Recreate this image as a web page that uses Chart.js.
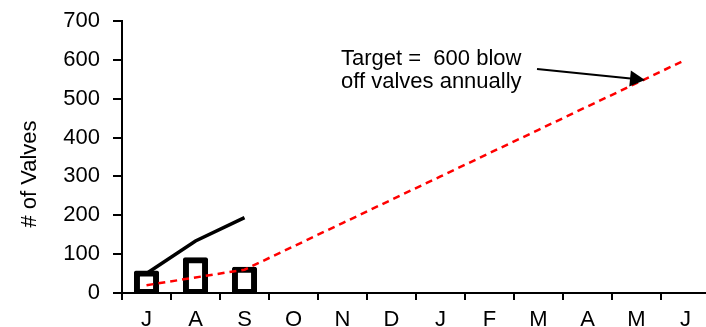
<!DOCTYPE html>
<html>
<head>
<meta charset="utf-8">
<script src="https://cdn.jsdelivr.net/npm/chart.js@4"></script>
<style>
  html, body { margin: 0; padding: 0; background: #fff; overflow: hidden; }
  #wrap { width: 713px; height: 327px; }
</style>
</head>
<body>
<div id="wrap"><canvas id="valves"></canvas></div>
<script>
// months Jul -> Jun
var months = ["J", "A", "S", "O", "N", "D", "J", "F", "M", "A", "M", "J"];
var monthly = [50, 84, 60, null, null, null, null, null, null, null, null, null];
var cumulative = [50, 134, 194, null, null, null, null, null, null, null, null, null];
var target = [20, 40, 60, 120, 180, 240, 300, 360, 420, 480, 540, 600];
var yTicks = [0, 100, 200, 300, 400, 500, 600, 700];

var FONT = "'Liberation Sans', Arial, sans-serif";

// axis title (sits a bit below the middle, like the original) + target note
var notePlugin = {
  id: "note",
  afterDraw: function (chart) {
    var ctx = chart.ctx;
    ctx.save();
    ctx.fillStyle = "#000";
    ctx.font = "22px " + FONT;

    ctx.save();
    ctx.translate(30, 174);
    ctx.rotate(-Math.PI / 2);
    ctx.textAlign = "center";
    ctx.textBaseline = "middle";
    ctx.fillText("# of Valves", 0, 0);
    ctx.restore();

    ctx.textBaseline = "alphabetic";
    ctx.fillText("Target =  600 blow", 341, 65);
    ctx.fillText("off valves annually", 341, 88);

    var x0 = 537, y0 = 69, x1 = 645, y1 = 80;
    var ang = Math.atan2(y1 - y0, x1 - x0);
    ctx.strokeStyle = "#000";
    ctx.lineWidth = 2;
    ctx.beginPath();
    ctx.moveTo(x0, y0);
    ctx.lineTo(x1 - 12 * Math.cos(ang), y1 - 12 * Math.sin(ang));
    ctx.stroke();
    ctx.beginPath();
    ctx.moveTo(x1, y1);
    ctx.lineTo(x1 - 15 * Math.cos(ang) + 8 * Math.sin(ang), y1 - 15 * Math.sin(ang) - 8 * Math.cos(ang));
    ctx.lineTo(x1 - 15 * Math.cos(ang) - 8 * Math.sin(ang), y1 - 15 * Math.sin(ang) + 8 * Math.cos(ang));
    ctx.closePath();
    ctx.fill();
    ctx.restore();
  },
};

var ctx = document.getElementById("valves").getContext("2d");
var chart = new Chart(ctx, {
  type: "bar",
  data: {
    labels: months,
    datasets: [
      {
        type: "line",
        label: "Target",
        data: target,
        borderColor: "#ff0000",
        borderWidth: 2.5,
        borderDash: [7, 5],
        pointRadius: 0,
        fill: false,
        order: 1,
      },
      {
        type: "line",
        label: "Cumulative",
        data: cumulative,
        borderColor: "#000",
        borderWidth: 3.5,
        pointRadius: 0,
        fill: false,
        order: 3,
      },
      {
        label: "Monthly",
        data: monthly,
        backgroundColor: "#fff",
        borderColor: "#000",
        borderWidth: 6,
        borderSkipped: false,
        borderRadius: 2,
        inflateAmount: 3,
        barPercentage: 0.39,
        categoryPercentage: 1,
        order: 2,
      },
    ],
  },
  options: {
    responsive: true,
    maintainAspectRatio: false,
    animation: false,
    layout: { padding: { top: 21, right: 3, left: 13, bottom: 0 } },
    plugins: {
      legend: { display: false },
      tooltip: { enabled: false },
    },
    scales: {
      x: {
        offset: true,
        grid: {
          offset: true,
          drawOnChartArea: false,
          drawTicks: true,
          tickLength: 7,
          color: "#000",
          lineWidth: 2,
        },
        border: { display: true, color: "#000", width: 2 },
        ticks: {
          color: "#000",
          font: { family: FONT, size: 22 },
          padding: 7,
          maxRotation: 0,
          autoSkip: false,
        },
        afterFit: function (s) { s.height = 34; },
      },
      y: {
        min: 0,
        max: 700,
        afterBuildTicks: function (s) {
          s.ticks = yTicks.map(function (v) { return { value: v }; });
        },
        grid: {
          drawOnChartArea: false,
          drawTicks: true,
          tickLength: 9,
          color: "#000",
          lineWidth: 2,
        },
        border: { display: true, color: "#000", width: 2 },
        ticks: {
          color: "#000",
          font: { family: FONT, size: 22 },
          padding: 13,
        },
        afterFit: function (s) {
          s.width = 109;
          s.paddingTop = 12;
          s.paddingBottom = 12;
        },
      },
    },
  },
  plugins: [notePlugin],
});
</script>
</body>
</html>
